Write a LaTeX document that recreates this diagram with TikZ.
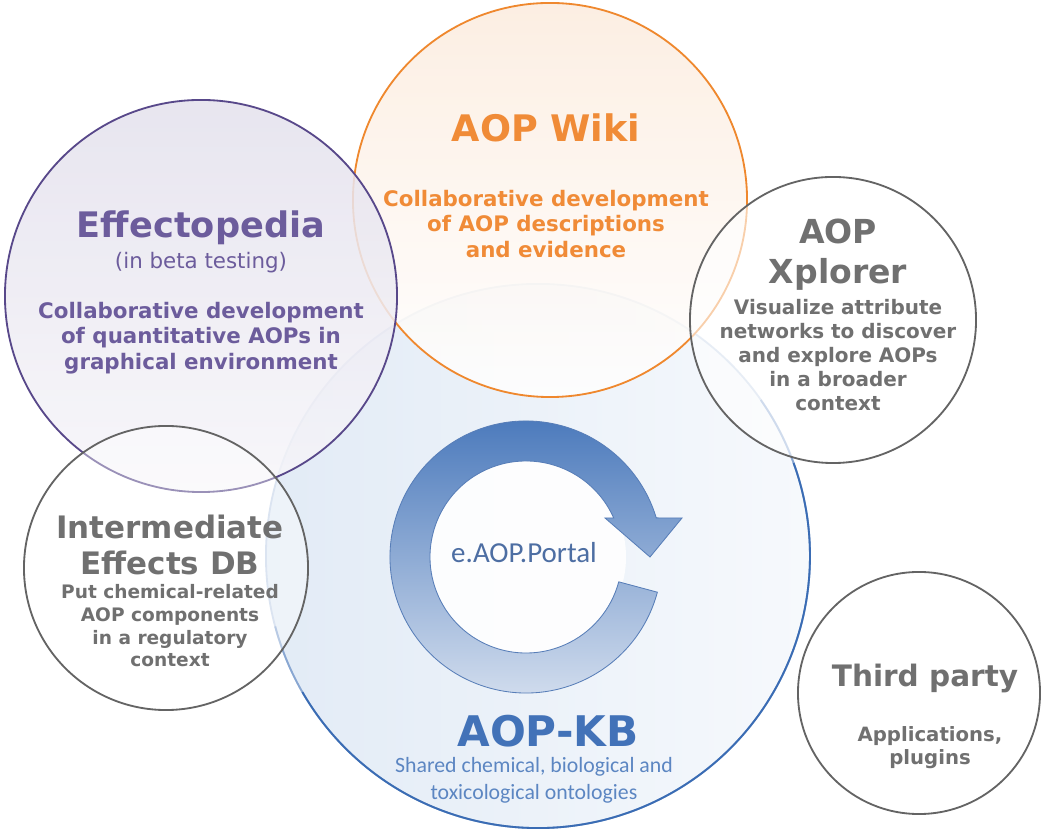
\documentclass[tikz,border=0pt]{standalone}
\usepackage{fontspec}
\setmainfont{DejaVu Sans}
\newfontfamily\carlito{Carlito}
\usepackage{xcolor}
\usepackage{tikz}
\definecolor{effline}{RGB}{88,72,138}
\definecolor{efftext}{RGB}{108,92,156}
\definecolor{efffill}{RGB}{228,225,237}
\definecolor{wikiline}{RGB}{239,136,46}
\definecolor{wikitext}{RGB}{240,139,55}
\definecolor{wikifill}{RGB}{252,236,222}
\definecolor{greyline}{RGB}{100,100,100}
\definecolor{greytext}{RGB}{112,112,112}
\definecolor{kbline}{RGB}{58,108,180}
\definecolor{kbtext}{RGB}{66,114,184}
\definecolor{kbsub}{RGB}{92,134,194}
\definecolor{kbfill}{RGB}{226,235,246}
\definecolor{ringdark}{RGB}{70,118,186}
\definecolor{ringlight}{RGB}{214,224,239}
\definecolor{ringedge}{RGB}{88,126,184}
\definecolor{portaltext}{RGB}{77,110,163}

\begin{document}
\begin{tikzpicture}[
    x=0.025cm, y=0.025cm,
    bubble/.style={circle, inner sep=0pt, outer sep=0pt, line width=1.3pt},
    bigtitle/.style={align=center, font=\bfseries\fontsize{25}{30}\selectfont},
    bodytext/.style={align=center, font=\bfseries\fontsize{15.2}{18.1}\selectfont}]
\useasboundingbox[fill=white] (0,0) rectangle (1050,833);

% the circles, back to front
\node[bubble, minimum size=13.6cm, draw=kbline!30, left color=kbfill, right color=kbfill!30] (kb) at (538,277) {};
\draw[kbline!60, line width=1.3pt] (kb.195) arc[start angle=195, end angle=395, radius=272];
\draw[kbline, line width=1.3pt] (kb.210) arc[start angle=210, end angle=380, radius=272];
\node[bubble, minimum size=9.85cm, draw=wikiline, top color=wikifill, bottom color=white, fill opacity=0.85, draw opacity=1] (wiki) at (550,633) {};
\node[bubble, minimum size=9.8cm, draw=effline, top color=efffill, bottom color=efffill!30, fill opacity=0.85, draw opacity=1] (eff) at (201,537) {};
\node[bubble, minimum size=7.15cm, draw=greyline, fill=white, fill opacity=0.6, draw opacity=1] (xpl) at (833,513) {};
\node[bubble, minimum size=7.1cm, draw=greyline, fill=white, fill opacity=0.4, draw opacity=1] (iedb) at (166,265) {};
\node[bubble, minimum size=6.05cm, draw=greyline, fill=white] (third) at (919,140) {};

% e.AOP.Portal cycle arrow
\begin{scope}[shift={(526,276)}]
\fill[white, fill opacity=0.9] (0,0) circle[radius=100];
\draw[ringedge, line width=0.6pt, top color=ringdark, bottom color=ringlight]
    (-15:136) arc[start angle=-15, end angle=-343.3, radius=136]
    -- (156,39) -- (124,0) -- (79,39) -- (-336:96)
    arc[start angle=-336, end angle=-15, radius=96] -- cycle;
\node[text=portaltext, font=\carlito\fontsize{20.6}{24}\selectfont] (portal) at (-2,4) {e.AOP.Portal};
\end{scope}

% texts
\node[bigtitle, text=efftext] (effTitle) at (201,605) {Effectopedia};
\node[text=efftext, font=\fontsize{15.2}{18}\selectfont] (effNote) at (201,570) {(in beta testing)};
\node[bodytext, text=efftext] (effBody) at (201,495) {Collaborative development\\of quantitative AOPs in\\graphical environment};

\node[bigtitle, text=wikitext, font=\bfseries\fontsize{26}{30}\selectfont] (wikiTitle) at (546,705) {AOP Wiki};
\node[bodytext, text=wikitext] (wikiBody) at (546,609) {Collaborative development\\of AOP descriptions\\and evidence};

\node[bigtitle, text=greytext, font=\bfseries\fontsize{23.5}{28.5}\selectfont] (xplTitle) at (838,578) {AOP\\Xplorer};
\node[bodytext, text=greytext, font=\bfseries\fontsize{14.2}{17.1}\selectfont] (xplBody) at (838,478) {Visualize attribute\\networks to discover\\and explore AOPs\\in a broader\\context};

\node[bigtitle, text=greytext, font=\bfseries\fontsize{22}{25.6}\selectfont] (iedbTitle) at (170,288) {Intermediate\\Effects DB};
\node[bodytext, text=greytext, font=\bfseries\fontsize{13.2}{16.1}\selectfont] (iedbBody) at (170,207) {Put chemical-related\\AOP components\\in a regulatory\\context};

\node[bigtitle, text=greytext, font=\bfseries\fontsize{21}{25}\selectfont] (thirdTitle) at (925,155) {Third party};
\node[bodytext, text=greytext, font=\bfseries\fontsize{14}{16.5}\selectfont] (thirdBody) at (930,85) {Applications,\\plugins};

\node[bigtitle, text=kbtext, font=\bfseries\fontsize{30}{34}\selectfont] (kbTitle) at (548,102) {AOP-KB};
\node[align=center, text=kbsub, font=\carlito\fontsize{15.5}{19}\selectfont] (kbSub) at (534,53) {Shared chemical, biological and\\toxicological ontologies};
\end{tikzpicture}
\end{document}
